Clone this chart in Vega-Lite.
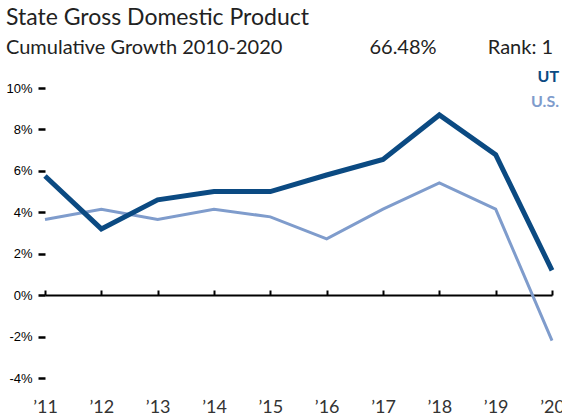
{
  "$schema": "https://vega.github.io/schema/vega-lite/v6.json",
  "width": 507,
  "height": 290,
  "padding": {"left": 5, "top": 7, "right": 0, "bottom": 0},
  "background": "white",
  "title": {
    "text": "State Gross Domestic Product",
    "subtitle": "Cumulative Growth 2010-2020\u00a0\u00a0\u00a0\u00a0\u00a0\u00a0\u00a0\u00a0\u00a0\u00a0\u00a0\u00a0\u00a0\u00a0\u00a0\u00a0\u00a066.48%\u00a0\u00a0\u00a0\u00a0\u00a0\u00a0\u00a0\u00a0\u00a0\u00a0Rank: 1",
    "anchor": "start",
    "frame": "bounds",
    "font": "Lato",
    "fontSize": 23,
    "fontWeight": "normal",
    "color": "#222222",
    "subtitleFont": "Lato",
    "subtitleFontSize": 20,
    "subtitleColor": "#222222",
    "subtitlePadding": 8,
    "offset": 11
  },
  "data": {
    "values": [
      {"year": 2011, "series": "UT", "value": 5.75},
      {"year": 2012, "series": "UT", "value": 3.2},
      {"year": 2013, "series": "UT", "value": 4.6},
      {"year": 2014, "series": "UT", "value": 5.0},
      {"year": 2015, "series": "UT", "value": 5.0},
      {"year": 2016, "series": "UT", "value": 5.8},
      {"year": 2017, "series": "UT", "value": 6.55},
      {"year": 2018, "series": "UT", "value": 8.7},
      {"year": 2019, "series": "UT", "value": 6.78},
      {"year": 2020, "series": "UT", "value": 1.2},
      {"year": 2011, "series": "U.S.", "value": 3.65},
      {"year": 2012, "series": "U.S.", "value": 4.15},
      {"year": 2013, "series": "U.S.", "value": 3.65},
      {"year": 2014, "series": "U.S.", "value": 4.15},
      {"year": 2015, "series": "U.S.", "value": 3.78},
      {"year": 2016, "series": "U.S.", "value": 2.72},
      {"year": 2017, "series": "U.S.", "value": 4.15},
      {"year": 2018, "series": "U.S.", "value": 5.42},
      {"year": 2019, "series": "U.S.", "value": 4.15},
      {"year": 2020, "series": "U.S.", "value": -2.2}
    ]
  },
  "config": {"view": {"stroke": null}},
  "encoding": {
    "x": {
      "field": "year",
      "type": "quantitative",
      "scale": {"domain": [2011, 2020], "nice": false, "zero": false},
      "axis": {
        "title": null,
        "values": [2011, 2012, 2013, 2014, 2015, 2016, 2017, 2018, 2019, 2020],
        "labelExpr": "'\u2019' + slice(toString(datum.value), 2)",
        "offset": -83,
        "grid": false,
        "domain": true,
        "domainColor": "#000000",
        "domainWidth": 2,
        "ticks": true,
        "tickSize": -5,
        "tickColor": "#000000",
        "tickWidth": 2,
        "labelPadding": 108,
        "labelFont": "Lato",
        "labelFontSize": 18,
        "labelColor": "#333333",
        "labelFlush": false,
        "labelOverlap": false
      }
    },
    "y": {
      "field": "value",
      "type": "quantitative",
      "scale": {"domain": [-4, 10], "nice": false},
      "axis": {
        "title": null,
        "values": [-4, -2, 0, 2, 4, 6, 8, 10],
        "labelExpr": "datum.value + '%'",
        "grid": false,
        "domain": false,
        "tickSize": 7,
        "tickWidth": 2.5,
        "tickColor": "#000000",
        "labelPadding": 6,
        "labelFont": "Liberation Sans",
        "labelFontSize": 13,
        "labelColor": "#000000"
      }
    }
  },
  "layer": [
    {
      "transform": [{"filter": "datum.series === 'U.S.'"}],
      "mark": {"type": "line", "strokeWidth": 3},
      "encoding": {
        "color": {
          "field": "series",
          "type": "nominal",
          "scale": {"domain": ["UT", "U.S."], "range": ["#0b4a82", "#7f9ccc"]},
          "legend": {
            "title": null,
            "orient": "none",
            "legendX": 485,
            "legendY": -19,
            "symbolOpacity": 0,
            "symbolSize": 0,
            "symbolStrokeWidth": 0,
            "labelFont": "Lato",
            "labelFontSize": 16,
            "labelFontWeight": "bold",
            "labelAlign": "right",
            "labelOffset": 13,
            "rowPadding": 9,
            "encode": {
              "labels": {
                "update": {
                  "fill": {"signal": "datum.value === 'UT' ? '#0b4a82' : '#7f9ccc'"}
                }
              }
            }
          }
        }
      }
    },
    {
      "transform": [{"filter": "datum.series === 'UT'"}],
      "mark": {"type": "line", "strokeWidth": 5},
      "encoding": {
        "color": {"field": "series", "type": "nominal"}
      }
    }
  ]
}
